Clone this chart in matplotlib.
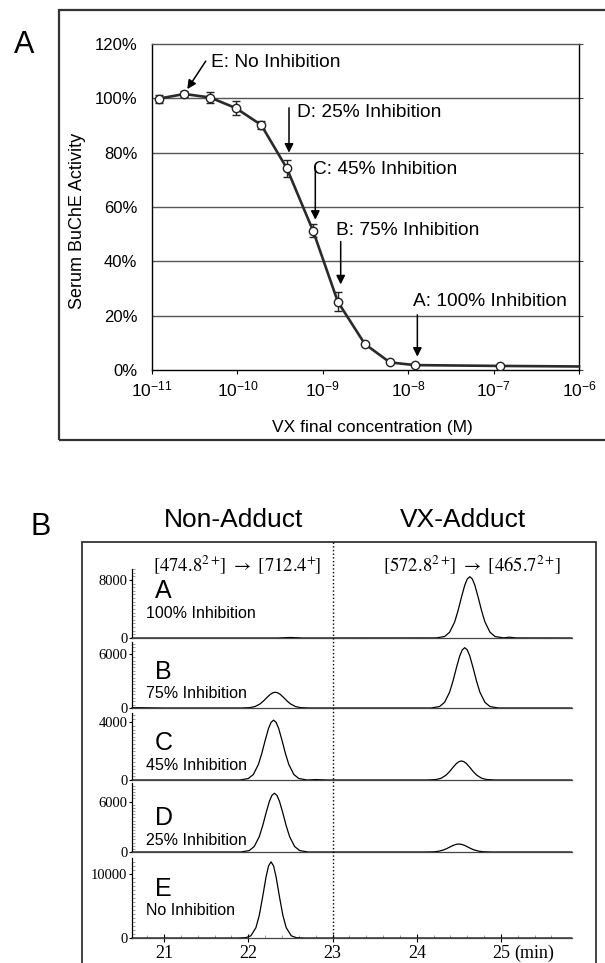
import matplotlib
matplotlib.use('Agg')
import matplotlib.pyplot as plt
import matplotlib.transforms as mtransforms
from matplotlib.lines import Line2D
from matplotlib.patches import Rectangle

plt.rcParams['font.family'] = ['Liberation Sans', 'DejaVu Sans']
plt.rcParams['mathtext.fontset'] = 'stix'

# ---- panel A: serum BuChE activity vs VX concentration ----
conc = [1.2e-11, 2.4e-11, 4.8e-11, 9.6e-11, 1.9e-10, 3.8e-10, 7.7e-10,
        1.5e-9, 3.1e-9, 6.1e-9, 1.2e-8, 1.2e-7]
activity = [99.9, 101.6, 100.3, 96.4, 90.2, 74.2, 51.2, 25.1, 9.6, 2.8, 1.8, 1.5]
activity_err = [1.5, 1.0, 2.0, 2.5, 1.5, 3.0, 2.4, 3.5, 0.5, 0.3, 0.3, 0.3]
line_end = (1e-6, 1.3)

ytick_vals = [0, 20, 40, 60, 80, 100, 120]

ann_labels = ['E: No Inhibition', 'D: 25% Inhibition', 'C: 45% Inhibition',
              'B: 75% Inhibition', 'A: 100% Inhibition']
ann_text_xy = [(4.9e-11, 113.2), (5.0e-10, 94.7), (7.7e-10, 73.7),
               (1.43e-9, 51.2), (1.14e-8, 25.1)]
ann_from = [(4.26e-11, 113.7), (4.02e-10, 96.5), (8.17e-10, 74.8),
            (1.62e-9, 47.3), (1.28e-8, 20.3)]
ann_to = [(2.59e-11, 103.4), (4.02e-10, 80.0), (8.17e-10, 55.3),
          (1.62e-9, 31.5), (1.28e-8, 4.9)]

# ---- panel B: MRM chromatograms (time in min, intensity) ----
rows = ['A', 'B', 'C', 'D', 'E']
row_labels = ['100% Inhibition', '75% Inhibition', '45% Inhibition',
              '25% Inhibition', 'No Inhibition']
row_ytick = [8000, 6000, 4000, 6000, 10000]
row_ymax = [9517, 7333, 4645, 8217, 12500]

t_A = [20.62, 22.35, 22.5, 22.65, 24.23, 24.33, 24.39, 24.45, 24.49, 24.53, 24.57,
       24.60, 24.63, 24.66, 24.69, 24.73, 24.77, 24.81, 24.87, 24.93, 25.03, 25.1,
       25.18, 25.84]
i_A = [0, 0, 70, 0, 10, 200, 790, 2210, 3760, 5590, 7280,
       8140, 8450, 8140, 7280, 5590, 3760, 2210, 790, 200, 20, 110,
       10, 0]

t_B = [20.62, 21.0, 21.92, 22.02, 22.08, 22.14, 22.18, 22.22, 22.26, 22.29, 22.32,
       22.35, 22.38, 22.42, 22.46, 22.50, 22.56, 22.62, 22.72,
       24.17, 24.27, 24.33, 24.39, 24.43, 24.47, 24.51, 24.54, 24.57,
       24.60, 24.63, 24.67, 24.71, 24.75, 24.81, 24.87, 24.97, 25.84]
i_B = [40, 0, 0, 42, 163, 459, 779, 1159, 1509, 1685, 1750,
       1685, 1509, 1159, 779, 459, 163, 42, 0,
       0, 161, 623, 1755, 2982, 4435, 5775, 6452, 6700,
       6452, 5775, 4435, 2982, 1755, 623, 161, 0, 0]

t_C = [20.62, 21.90, 22.00, 22.06, 22.12, 22.16, 22.20, 22.24, 22.27, 22.30,
       22.33, 22.36, 22.40, 22.44, 22.48, 22.54, 22.60, 22.70, 22.8, 22.95,
       24.13, 24.23, 24.29, 24.35, 24.39, 24.43, 24.47, 24.50, 24.53,
       24.56, 24.59, 24.63, 24.67, 24.71, 24.77, 24.83, 24.93, 25.84]
i_C = [0, 0, 100, 386, 1087, 1847, 2747, 3577, 3996, 4150,
       3996, 3577, 2747, 1847, 1087, 386, 100, 0, 30, 0,
       0, 32, 123, 346, 587, 874, 1138, 1271, 1320,
       1271, 1138, 874, 587, 346, 123, 32, 0, 0]

t_D = [20.62, 21.91, 22.01, 22.07, 22.13, 22.17, 22.21, 22.25, 22.28, 22.31,
       22.34, 22.37, 22.41, 22.45, 22.49, 22.55, 22.61, 22.71,
       24.10, 24.20, 24.26, 24.32, 24.36, 24.40, 24.44, 24.47, 24.50,
       24.53, 24.56, 24.60, 24.64, 24.68, 24.74, 24.80, 24.90, 25.84]
i_D = [0, 0, 168, 651, 1834, 3115, 4634, 6034, 6741, 7000,
       6741, 6034, 4634, 3115, 1834, 651, 168, 0,
       0, 23, 88, 249, 423, 629, 819, 915, 950,
       915, 819, 629, 423, 249, 88, 23, 0, 0]

t_E = [20.62, 21.87, 21.97, 22.03, 22.09, 22.13, 22.17, 22.21, 22.24, 22.27,
       22.30, 22.33, 22.37, 22.41, 22.45, 22.51, 22.57, 22.67, 25.84]
i_E = [0, 0, 48, 345, 1607, 3546, 6426, 9520, 11257, 11900,
       11257, 9520, 6426, 3546, 1607, 345, 48, 0, 0]

traces_t = [t_A, t_B, t_C, t_D, t_E]
traces_i = [i_A, i_B, i_C, i_D, i_E]
xticks_min = [21, 22, 23, 24, 25]
transitions = [r'$\mathrm{[474.8^{2+}\!]}\ \rightarrow\ \mathrm{[712.4^{+}\!]}$',
               r'$\mathrm{[572.8^{2+}\!]}\ \rightarrow\ \mathrm{[465.7^{2+}\!]}$']

W, H = 605, 963
fig = plt.figure(figsize=(W / 100, H / 100), dpi=100)


def px_axes(l, t, r, b):
    return fig.add_axes([l / W, 1 - b / H, (r - l) / W, (b - t) / H])


# ================= panel A =================
fig.add_artist(Rectangle((59 / W, 1 - 440 / H), (620 - 59) / W, (440 - 10) / H,
                         transform=fig.transFigure, fill=False,
                         edgecolor='#333333', lw=1.6, clip_on=False))
fig.text(24 / W, 1 - 45 / H, 'A', fontsize=22, ha='center', va='center')

ax = px_axes(152, 44, 579, 370)
ax.set_xscale('log')
ax.set_xlim(1e-11, 1e-6)
ax.set_ylim(0, 120)
for v in ytick_vals[1:-1]:
    ax.axhline(v, color='#555555', lw=1.0, zorder=1)
ax.errorbar(conc, activity, yerr=activity_err, fmt='none', ecolor='#222222',
            elinewidth=1, capsize=3.2, capthick=1, zorder=3)
ax.plot(conc + [line_end[0]], activity + [line_end[1]], color='#2a2a2a', lw=1.9,
        zorder=4, clip_on=False)
ax.plot(conc, activity, ls='none', marker='o', ms=6, mfc='white', mec='#222222',
        mew=1.0, zorder=5)
for lab, txy, a0, a1 in zip(ann_labels, ann_text_xy, ann_from, ann_to):
    ax.text(txy[0], txy[1], lab, fontsize=13.8, ha='left', va='center', zorder=6)
    ax.annotate('', xy=a1, xytext=a0,
                arrowprops=dict(arrowstyle='-|>', color='black', lw=1.1,
                                mutation_scale=13, shrinkA=0, shrinkB=0),
                zorder=6)
ax.set_yticks(ytick_vals)
ax.set_yticklabels([f'{v}%' for v in ytick_vals])
ax.tick_params(axis='y', left=False, right=True, labelleft=True, labelright=False,
               direction='out', length=3, pad=7.5, labelsize=12, color='#444444')
ax.tick_params(axis='x', which='major', direction='out', length=3, pad=4, labelsize=12.5)
ax.tick_params(axis='x', which='minor', bottom=False)
for s in ax.spines.values():
    s.set_linewidth(1.0)
ax.spines['top'].set_color('#555555')
ax.set_ylabel('Serum BuChE Activity', fontsize=13)
ax.yaxis.set_label_coords(-0.155, 0.457)
ax.set_xlabel('VX final concentration (M)', fontsize=12.5)
ax.xaxis.set_label_coords(0.515, -0.153)

# ================= panel B =================
fig.add_artist(Rectangle((82 / W, -0.02), (596 - 82) / W, 1 - 542 / H + 0.02,
                         transform=fig.transFigure, fill=False,
                         edgecolor='#222222', lw=1.2, clip_on=False))
fig.text(41 / W, 1 - 527 / H, 'B', fontsize=22, ha='center', va='center')
fig.text(234 / W, 1 - 520 / H, 'Non-Adduct', fontsize=19, ha='center', va='center')
fig.text(463 / W, 1 - 520 / H, 'VX-Adduct', fontsize=19, ha='center', va='center')
fig.text(237 / W, 1 - 565 / H, transitions[0], fontsize=13.5, ha='center', va='center')
fig.text(472 / W, 1 - 565 / H, transitions[1], fontsize=13.5, ha='center', va='center')

row_px = [(569, 638), (642, 708), (713, 780), (783, 852), (858, 938)]
letter_y = [0.68, 0.55, 0.55, 0.50, 0.61]
label_y = [0.36, 0.22, 0.21, 0.17, 0.34]
axes_b = []
for k, (top, bot) in enumerate(row_px):
    a = px_axes(131.7, top, 571.7, bot)
    a.plot(traces_t[k], traces_i[k], color='black', lw=0.9, clip_on=False)
    a.set_xlim(20.615, 25.84)
    a.set_ylim(0, row_ymax[k])
    for s in ['top', 'right']:
        a.spines[s].set_visible(False)
    a.spines['left'].set_linewidth(0.9)
    a.spines['bottom'].set_linewidth(0.9)
    a.spines['bottom'].set_color('#444444')
    a.set_yticks([0, row_ytick[k]])
    a.set_yticklabels(['0', str(row_ytick[k])], family='Liberation Serif')
    a.set_yticks(range(0, int(row_ymax[k]), row_ytick[k] // 16), minor=True)
    a.tick_params(axis='y', which='major', direction='out', length=2, pad=1,
                  labelsize=10.5)
    a.tick_params(axis='y', which='minor', direction='in', length=2, width=0.5,
                  color='#777777')
    a.text(0.053, letter_y[k], rows[k], transform=a.transAxes, fontsize=18,
           ha='left', va='center')
    a.text(0.0325, label_y[k], row_labels[k], transform=a.transAxes, fontsize=11.5,
           ha='left', va='center')
    if k < 4:
        a.set_xticks([])
    else:
        a.set_xticks(xticks_min)
        a.set_xticklabels([str(v) for v in xticks_min], family='Liberation Serif')
        a.set_xticks([x / 5 for x in range(104, 129)], minor=True)
        a.tick_params(axis='x', which='major', direction='inout', length=6, pad=2,
                      labelsize=13)
        a.tick_params(axis='x', which='minor', direction='in', length=2, width=0.5,
                      color='#777777')
        trans, _, _ = a.get_xaxis_text1_transform(5)
        a.text(25.16, 0, '(min)', transform=trans, family='Liberation Serif',
               fontsize=13, ha='left', va='top')
    axes_b.append(a)

blend = mtransforms.blended_transform_factory(axes_b[-1].transData, fig.transFigure)
fig.add_artist(Line2D([23, 23], [1 - 542 / H, 1 - 938 / H], transform=blend,
                      color='black', lw=1.0, ls=':'))

fig.savefig('out.png', dpi=100)
